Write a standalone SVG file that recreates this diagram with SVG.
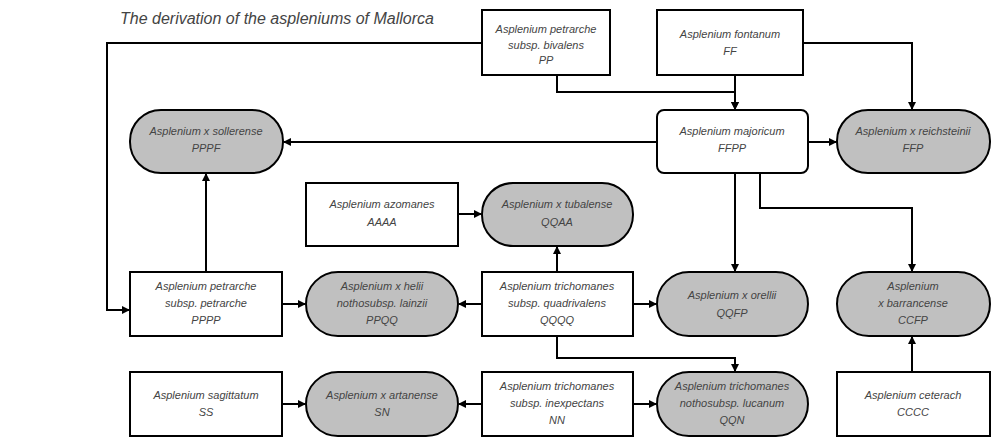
<svg xmlns="http://www.w3.org/2000/svg" width="1000" height="445" viewBox="0 0 1000 445">
<style>
text{font-family:"Liberation Sans",Arial,sans-serif;font-size:11px;fill:#444;text-anchor:middle;font-style:italic}
.b{fill:#fff;stroke:#000;stroke-width:2}
.p{fill:#c0c0c0;stroke:#000;stroke-width:2}
.c path{fill:none;stroke:#000;stroke-width:2;marker-end:url(#a)}
</style>
<defs><marker id="a" markerWidth="8" markerHeight="8" refX="7" refY="4" orient="auto" markerUnits="userSpaceOnUse"><path d="M0,0L8,4L0,8z" fill="#000"/></marker></defs>
<rect width="1000" height="445" fill="#fff"/>
<text x="120" y="24" style="font-size:16px;text-anchor:start">The derivation of the aspleniums of Mallorca</text>
<g class="c">
<path d="M482,43H107V310H129"/>
<path d="M557,75V92H735V109"/>
<path d="M735,75V109"/>
<path d="M803,43H912V109"/>
<path d="M657,142H284"/>
<path d="M808,142H836"/>
<path d="M735,173V271"/>
<path d="M760,173V208H912V271"/>
<path d="M206,272V174"/>
<path d="M458,214H481"/>
<path d="M557,272V247"/>
<path d="M282,304H305"/>
<path d="M482,304H459"/>
<path d="M633,304H656"/>
<path d="M557,336V358H735V371"/>
<path d="M282,404H305"/>
<path d="M482,404H459"/>
<path d="M633,404H656"/>
<path d="M912,372V337"/>
</g>
<g id="pp"><rect class="b" x="482" y="10" width="128" height="65"/><text x="546" y="33">Asplenium petrarche</text><text x="546" y="49">subsp. bivalens</text><text x="546" y="64">PP</text></g>
<g id="ff"><rect class="b" x="657" y="10" width="146" height="65"/><text x="730" y="38">Asplenium fontanum</text><text x="730" y="55">FF</text></g>
<g id="majoricum"><rect class="b" x="657" y="110" width="151" height="63" rx="7"/><text x="732" y="135">Asplenium majoricum</text><text x="732" y="152">FFPP</text></g>
<g id="sollerense"><rect class="p" x="130" y="110" width="153" height="63" rx="31"/><text x="206" y="135">Asplenium x sollerense</text><text x="206" y="152">PPPF</text></g>
<g id="reichsteinii"><rect class="p" x="837" y="110" width="153" height="63" rx="31"/><text x="913" y="135">Asplenium x reichsteinii</text><text x="913" y="152">FFP</text></g>
<g id="azomanes"><rect class="b" x="306" y="183" width="152" height="63"/><text x="382" y="208">Asplenium azomanes</text><text x="382" y="226">AAAA</text></g>
<g id="tubalense"><rect class="p" x="482" y="183" width="151" height="63" rx="31"/><text x="557" y="208">Asplenium x tubalense</text><text x="557" y="226">QQAA</text></g>
<g id="petrarche"><rect class="b" x="130" y="272" width="152" height="64"/><text x="206" y="290">Asplenium petrarche</text><text x="206" y="307">subsp. petrarche</text><text x="206" y="324">PPPP</text></g>
<g id="helii"><rect class="p" x="306" y="272" width="152" height="64" rx="32"/><text x="382" y="290">Asplenium x helii</text><text x="382" y="307">nothosubsp. lainzii</text><text x="382" y="324">PPQQ</text></g>
<g id="quadrivalens"><rect class="b" x="482" y="272" width="151" height="64"/><text x="557" y="290">Asplenium trichomanes</text><text x="557" y="307">subsp. quadrivalens</text><text x="557" y="324">QQQQ</text></g>
<g id="orellii"><rect class="p" x="657" y="272" width="151" height="64" rx="32"/><text x="732" y="299">Asplenium x orellii</text><text x="732" y="317">QQFP</text></g>
<g id="barrancense"><rect class="p" x="837" y="272" width="153" height="64" rx="32"/><text x="913" y="290">Asplenium</text><text x="913" y="307">x barrancense</text><text x="913" y="324">CCFP</text></g>
<g id="sagittatum"><rect class="b" x="130" y="372" width="152" height="64"/><text x="206" y="399">Asplenium sagittatum</text><text x="206" y="416">SS</text></g>
<g id="artanense"><rect class="p" x="306" y="372" width="152" height="64" rx="32"/><text x="382" y="399">Asplenium x artanense</text><text x="382" y="416">SN</text></g>
<g id="inexpectans"><rect class="b" x="482" y="372" width="151" height="64"/><text x="557" y="390">Asplenium trichomanes</text><text x="557" y="407">subsp. inexpectans</text><text x="557" y="424">NN</text></g>
<g id="lucanum"><rect class="p" x="657" y="372" width="151" height="64" rx="32"/><text x="732" y="390">Asplenium trichomanes</text><text x="732" y="407">nothosubsp. lucanum</text><text x="732" y="424">QQN</text></g>
<g id="ceterach"><rect class="b" x="837" y="372" width="153" height="64"/><text x="913" y="399">Asplenium ceterach</text><text x="913" y="416">CCCC</text></g>
</svg>
